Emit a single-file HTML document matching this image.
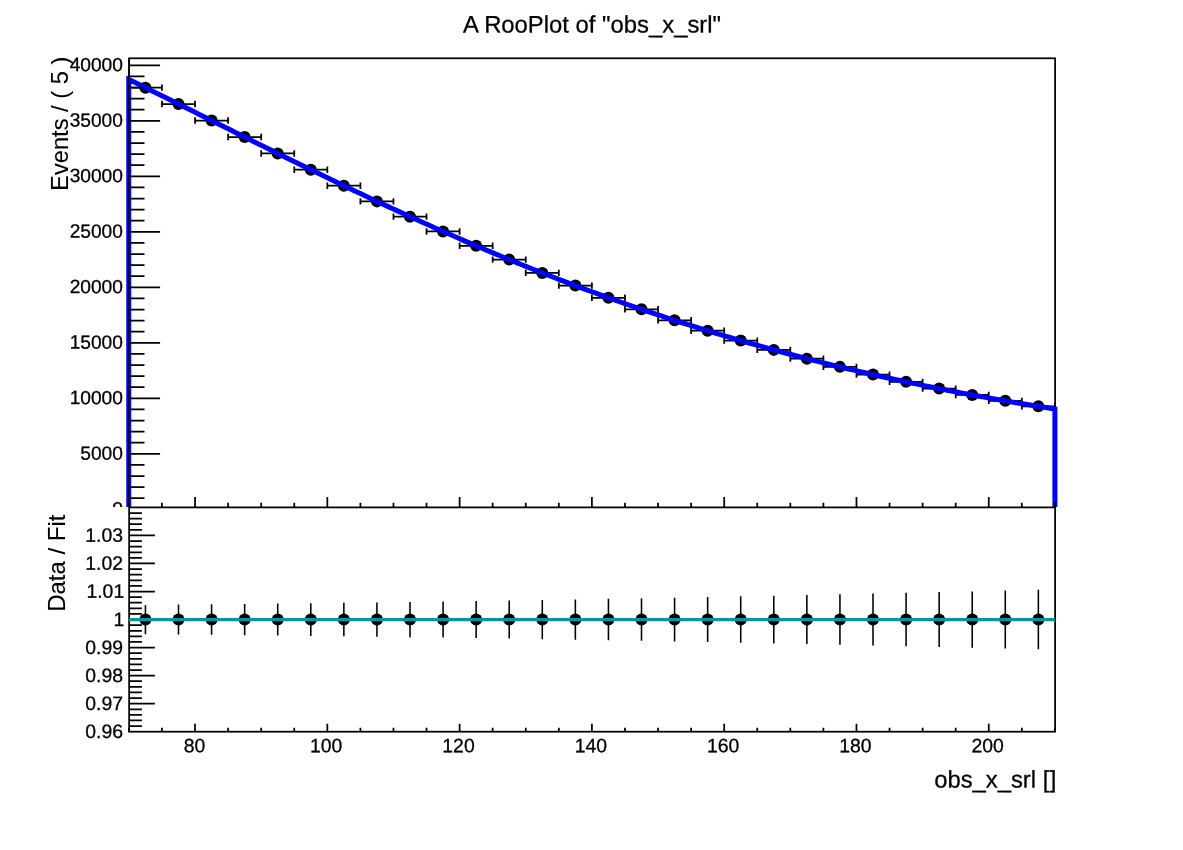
<!DOCTYPE html>
<html><head><meta charset="utf-8"><title>A RooPlot of "obs_x_srl"</title>
<style>html,body{margin:0;padding:0;background:#fff}body{width:1183px;height:850px;overflow:hidden}</style></head>
<body>
<svg width="1183" height="850" viewBox="0 0 1183 850" style="display:block">
<rect width="1183" height="850" fill="#fff"/>
<g font-family="'Liberation Sans', Arial, Helvetica, sans-serif" fill="#000" stroke="#000" stroke-width="0.28" stroke-linejoin="round">
<text transform="translate(592.0,32.5) rotate(0.03)" font-size="23.85" text-anchor="middle">A RooPlot of "obs_x_srl"</text>
<text transform="translate(122.9,515.15) rotate(0.03)" font-size="19.15" text-anchor="end">0</text>
<text transform="translate(122.9,459.65) rotate(0.03)" font-size="19.15" text-anchor="end">5000</text>
<text transform="translate(122.9,404.15) rotate(0.03)" font-size="19.15" text-anchor="end">10000</text>
<text transform="translate(122.9,348.65) rotate(0.03)" font-size="19.15" text-anchor="end">15000</text>
<text transform="translate(122.9,293.15) rotate(0.03)" font-size="19.15" text-anchor="end">20000</text>
<text transform="translate(122.9,237.65) rotate(0.03)" font-size="19.15" text-anchor="end">25000</text>
<text transform="translate(122.9,182.15) rotate(0.03)" font-size="19.15" text-anchor="end">30000</text>
<text transform="translate(122.9,126.65) rotate(0.03)" font-size="19.15" text-anchor="end">35000</text>
<text transform="translate(122.9,71.15) rotate(0.03)" font-size="19.15" text-anchor="end">40000</text>
<text transform="translate(68,56.6) rotate(-90)" font-size="23.7" stroke-width="0.1" text-anchor="end">Events / ( 5 )</text>
</g>
<g stroke="#000" stroke-width="1.75" fill="none" stroke-linecap="butt">
<rect x="129.15" y="58.3" width="925.95" height="451.0"/>
<path d="M128.90 87.64h33.07M128.90 84.44v6.4M161.97 84.44v6.4 M161.97 104.02h33.07M161.97 100.82v6.4M195.04 100.82v6.4 M195.04 120.53h33.07M195.04 117.33v6.4M228.11 117.33v6.4 M228.11 137.05h33.07M228.11 133.85v6.4M261.19 133.85v6.4 M261.19 153.48h33.07M261.19 150.28v6.4M294.26 150.28v6.4 M294.26 169.73h33.07M294.26 166.53v6.4M327.33 166.53v6.4 M327.33 185.72h33.07M327.33 182.52v6.4M360.40 182.52v6.4 M360.40 201.38h33.07M360.40 198.18v6.4M393.47 198.18v6.4 M393.47 216.64h33.07M393.47 213.44v6.4M426.54 213.44v6.4 M426.54 231.46h33.07M426.54 228.26v6.4M459.61 228.26v6.4 M459.61 245.80h33.07M459.61 242.60v6.4M492.69 242.60v6.4 M492.69 259.62h33.07M492.69 256.42v6.4M525.76 256.42v6.4 M525.76 272.89h33.07M525.76 269.69v6.4M558.83 269.69v6.4 M558.83 285.61h33.07M558.83 282.41v6.4M591.90 282.41v6.4 M591.90 297.75h33.07M591.90 294.55v6.4M624.97 294.55v6.4 M624.97 309.32h33.07M624.97 306.12v6.4M658.04 306.12v6.4 M658.04 320.31h33.07M658.04 317.11v6.4M691.11 317.11v6.4 M691.11 330.73h33.07M691.11 327.53v6.4M724.19 327.53v6.4 M724.19 340.58h33.07M724.19 337.38v6.4M757.26 337.38v6.4 M757.26 349.88h33.07M757.26 346.68v6.4M790.33 346.68v6.4 M790.33 358.64h33.07M790.33 355.44v6.4M823.40 355.44v6.4 M823.40 366.87h33.07M823.40 363.67v6.4M856.47 363.67v6.4 M856.47 374.60h33.07M856.47 371.40v6.4M889.54 371.40v6.4 M889.54 381.84h33.07M889.54 378.64v6.4M922.61 378.64v6.4 M922.61 388.61h33.07M922.61 385.41v6.4M955.69 385.41v6.4 M955.69 394.94h33.07M955.69 391.74v6.4M988.76 391.74v6.4 M988.76 400.83h33.07M988.76 397.63v6.4M1021.83 397.63v6.4 M1021.83 406.32h33.07M1021.83 403.12v6.4M1054.90 403.12v6.4" stroke-width="1.75"/>
</g>
<g fill="#000">
<circle cx="145.44" cy="87.64" r="6"/>
<circle cx="178.51" cy="104.02" r="6"/>
<circle cx="211.58" cy="120.53" r="6"/>
<circle cx="244.65" cy="137.05" r="6"/>
<circle cx="277.72" cy="153.48" r="6"/>
<circle cx="310.79" cy="169.73" r="6"/>
<circle cx="343.86" cy="185.72" r="6"/>
<circle cx="376.94" cy="201.38" r="6"/>
<circle cx="410.01" cy="216.64" r="6"/>
<circle cx="443.08" cy="231.46" r="6"/>
<circle cx="476.15" cy="245.80" r="6"/>
<circle cx="509.22" cy="259.62" r="6"/>
<circle cx="542.29" cy="272.89" r="6"/>
<circle cx="575.36" cy="285.61" r="6"/>
<circle cx="608.44" cy="297.75" r="6"/>
<circle cx="641.51" cy="309.32" r="6"/>
<circle cx="674.58" cy="320.31" r="6"/>
<circle cx="707.65" cy="330.73" r="6"/>
<circle cx="740.72" cy="340.58" r="6"/>
<circle cx="773.79" cy="349.88" r="6"/>
<circle cx="806.86" cy="358.64" r="6"/>
<circle cx="839.94" cy="366.87" r="6"/>
<circle cx="873.01" cy="374.60" r="6"/>
<circle cx="906.08" cy="381.84" r="6"/>
<circle cx="939.15" cy="388.61" r="6"/>
<circle cx="972.22" cy="394.94" r="6"/>
<circle cx="1005.29" cy="400.83" r="6"/>
<circle cx="1038.36" cy="406.32" r="6"/>
</g>
<polyline fill="none" stroke="#0000ff" stroke-width="5" stroke-linejoin="miter" points="128.75,509.30 128.75,79.53 133.53,81.79 138.16,84.06 142.79,86.34 147.42,88.61 152.05,90.90 156.68,93.18 161.31,95.48 165.94,97.77 170.57,100.07 175.20,102.37 179.83,104.68 184.46,106.98 189.09,109.29 193.72,111.60 198.35,113.91 202.98,116.23 207.61,118.54 212.24,120.86 216.87,123.17 221.50,125.49 226.13,127.80 230.76,130.11 235.39,132.43 240.02,134.74 244.65,137.05 249.28,139.35 253.91,141.66 258.54,143.96 263.17,146.27 267.80,148.56 272.43,150.86 277.06,153.15 281.69,155.44 286.32,157.72 290.95,160.01 295.58,162.28 300.21,164.55 304.84,166.82 309.47,169.08 314.10,171.34 318.73,173.59 323.36,175.84 327.99,178.08 332.62,180.32 337.25,182.55 341.88,184.77 346.51,186.99 351.14,189.20 355.77,191.40 360.40,193.59 365.03,195.78 369.66,197.96 374.29,200.14 378.92,202.31 383.55,204.46 388.18,206.61 392.81,208.76 397.44,210.89 402.07,213.02 406.70,215.14 411.33,217.24 415.96,219.34 420.59,221.44 425.22,223.52 429.85,225.59 434.48,227.66 439.11,229.71 443.74,231.76 448.37,233.79 453.00,235.82 457.63,237.83 462.26,239.84 466.89,241.84 471.52,243.82 476.15,245.80 480.78,247.77 485.41,249.72 490.04,251.67 494.67,253.60 499.30,255.53 503.93,257.44 508.56,259.35 513.19,261.24 517.82,263.12 522.45,265.00 527.08,266.86 531.71,268.71 536.34,270.55 540.97,272.37 545.60,274.19 550.23,276.00 554.86,277.79 559.49,279.58 564.12,281.35 568.75,283.11 573.38,284.86 578.01,286.60 582.64,288.33 587.27,290.05 591.90,291.75 596.53,293.45 601.16,295.13 605.79,296.80 610.42,298.46 615.05,300.11 619.68,301.75 624.31,303.38 628.94,304.99 633.57,306.60 638.20,308.19 642.83,309.77 647.46,311.34 652.09,312.90 656.72,314.45 661.35,315.98 665.98,317.51 670.61,319.02 675.24,320.53 679.87,322.02 684.50,323.50 689.13,324.97 693.76,326.42 698.39,327.87 703.02,329.31 707.65,330.73 712.28,332.14 716.91,333.54 721.54,334.94 726.17,336.32 730.80,337.69 735.43,339.04 740.06,340.39 744.69,341.73 749.32,343.05 753.95,344.37 758.58,345.67 763.21,346.96 767.84,348.25 772.47,349.52 777.10,350.78 781.73,352.03 786.36,353.27 790.99,354.50 795.62,355.72 800.25,356.93 804.88,358.13 809.51,359.32 814.14,360.50 818.77,361.66 823.40,362.82 828.03,363.97 832.66,365.11 837.29,366.23 841.92,367.35 846.55,368.46 851.18,369.56 855.81,370.65 860.44,371.72 865.07,372.79 869.70,373.85 874.33,374.90 878.96,375.94 883.59,376.97 888.22,377.99 892.85,379.00 897.48,380.01 902.11,381.00 906.74,381.98 911.37,382.96 916.00,383.92 920.63,384.88 925.26,385.83 929.89,386.76 934.52,387.69 939.15,388.61 943.78,389.53 948.41,390.43 953.04,391.32 957.67,392.21 962.30,393.09 966.93,393.95 971.56,394.81 976.19,395.67 980.82,396.51 985.45,397.34 990.08,398.17 994.71,398.99 999.34,399.80 1003.97,400.60 1008.60,401.40 1013.23,402.18 1017.86,402.96 1022.49,403.73 1027.12,404.50 1031.75,405.25 1036.38,406.00 1041.01,406.74 1045.64,407.47 1050.27,408.20 1054.90,408.91 1054.90,509.30"/>
<path d="M128.20 509.30h31.9 M128.20 498.20h16.3 M128.20 487.10h16.3 M128.20 476.00h16.3 M128.20 464.90h16.3 M128.20 453.80h31.9 M128.20 442.70h16.3 M128.20 431.60h16.3 M128.20 420.50h16.3 M128.20 409.40h16.3 M128.20 398.30h31.9 M128.20 387.20h16.3 M128.20 376.10h16.3 M128.20 365.00h16.3 M128.20 353.90h16.3 M128.20 342.80h31.9 M128.20 331.70h16.3 M128.20 320.60h16.3 M128.20 309.50h16.3 M128.20 298.40h16.3 M128.20 287.30h31.9 M128.20 276.20h16.3 M128.20 265.10h16.3 M128.20 254.00h16.3 M128.20 242.90h16.3 M128.20 231.80h31.9 M128.20 220.70h16.3 M128.20 209.60h16.3 M128.20 198.50h16.3 M128.20 187.40h16.3 M128.20 176.30h31.9 M128.20 165.20h16.3 M128.20 154.10h16.3 M128.20 143.00h16.3 M128.20 131.90h16.3 M128.20 120.80h31.9 M128.20 109.70h16.3 M128.20 98.60h16.3 M128.20 87.50h16.3 M128.20 76.40h16.3 M128.20 65.30h31.9 M128.90 507.4v-4.6 M161.97 507.4v-4.6 M195.04 507.4v-10.3 M228.11 507.4v-4.6 M261.19 507.4v-4.6 M294.26 507.4v-4.6 M327.33 507.4v-10.3 M360.40 507.4v-4.6 M393.47 507.4v-4.6 M426.54 507.4v-4.6 M459.61 507.4v-10.3 M492.69 507.4v-4.6 M525.76 507.4v-4.6 M558.83 507.4v-4.6 M591.90 507.4v-10.3 M624.97 507.4v-4.6 M658.04 507.4v-4.6 M691.11 507.4v-4.6 M724.19 507.4v-10.3 M757.26 507.4v-4.6 M790.33 507.4v-4.6 M823.40 507.4v-4.6 M856.47 507.4v-10.3 M889.54 507.4v-4.6 M922.61 507.4v-4.6 M955.69 507.4v-4.6 M988.76 507.4v-10.3 M1021.83 507.4v-4.6 M1054.90 507.4v-4.6" stroke="#000" stroke-width="1.75" fill="none"/>
<line x1="128.7" x2="128.7" y1="58.3" y2="507.4" stroke="#000" stroke-width="1"/>
<rect x="0" y="507.0" width="1183" height="343.0" fill="#fff"/>
<g font-family="'Liberation Sans', Arial, Helvetica, sans-serif" fill="#000" stroke="#000" stroke-width="0.28" stroke-linejoin="round">
<text transform="translate(123.0,541.79) rotate(0.03)" font-size="19.4" text-anchor="end">1.03</text>
<text transform="translate(123.0,569.83) rotate(0.03)" font-size="19.4" text-anchor="end">1.02</text>
<text transform="translate(124.2,597.86) rotate(0.03)" font-size="19.4" text-anchor="end">1.01</text>
<text transform="translate(124.2,625.90) rotate(0.03)" font-size="19.4" text-anchor="end">1</text>
<text transform="translate(123.0,653.94) rotate(0.03)" font-size="19.4" text-anchor="end">0.99</text>
<text transform="translate(123.0,681.98) rotate(0.03)" font-size="19.4" text-anchor="end">0.98</text>
<text transform="translate(123.0,710.01) rotate(0.03)" font-size="19.4" text-anchor="end">0.97</text>
<text transform="translate(123.0,738.05) rotate(0.03)" font-size="19.4" text-anchor="end">0.96</text>
<text transform="translate(64.9,514.5) rotate(-90)" font-size="24" stroke-width="0.1" text-anchor="end">Data / Fit</text>
<text transform="translate(194.5,752.2) rotate(0.03)" font-size="19.4" text-anchor="middle">80</text>
<text transform="translate(326.2,752.2) rotate(0.03)" font-size="19.4" text-anchor="middle">100</text>
<text transform="translate(458.5,752.2) rotate(0.03)" font-size="19.4" text-anchor="middle">120</text>
<text transform="translate(590.8,752.2) rotate(0.03)" font-size="19.4" text-anchor="middle">140</text>
<text transform="translate(723.1,752.2) rotate(0.03)" font-size="19.4" text-anchor="middle">160</text>
<text transform="translate(855.4,752.2) rotate(0.03)" font-size="19.4" text-anchor="middle">180</text>
<text transform="translate(987.7,752.2) rotate(0.03)" font-size="19.4" text-anchor="middle">200</text>
<text transform="translate(1056.4,787.6) rotate(0.03)" font-size="23.8" text-anchor="end">obs_x_srl [<tspan dx="0.5">]</tspan></text>
</g>
<g stroke="#000" stroke-width="1.75" fill="none">
<rect x="129.15" y="507.4" width="925.95" height="224.3"/>
<path d="M128.9 726.09h13 M128.9 720.49h13 M128.9 714.88h13 M128.9 709.27h13 M128.9 703.66h26 M128.9 698.06h13 M128.9 692.45h13 M128.9 686.84h13 M128.9 681.23h13 M128.9 675.63h26 M128.9 670.02h13 M128.9 664.41h13 M128.9 658.80h13 M128.9 653.20h13 M128.9 647.59h26 M128.9 641.98h13 M128.9 636.37h13 M128.9 630.77h13 M128.9 625.16h13 M128.9 619.55h26 M128.9 613.94h13 M128.9 608.34h13 M128.9 602.73h13 M128.9 597.12h13 M128.9 591.51h26 M128.9 585.91h13 M128.9 580.30h13 M128.9 574.69h13 M128.9 569.08h13 M128.9 563.48h26 M128.9 557.87h13 M128.9 552.26h13 M128.9 546.65h13 M128.9 541.05h13 M128.9 535.44h26 M128.9 529.83h13 M128.9 524.22h13 M128.9 518.62h13 M128.9 513.01h13 M128.90 731.7v-4 M161.97 731.7v-4 M195.04 731.7v-8 M228.11 731.7v-4 M261.19 731.7v-4 M294.26 731.7v-4 M327.33 731.7v-8 M360.40 731.7v-4 M393.47 731.7v-4 M426.54 731.7v-4 M459.61 731.7v-8 M492.69 731.7v-4 M525.76 731.7v-4 M558.83 731.7v-4 M591.90 731.7v-8 M624.97 731.7v-4 M658.04 731.7v-4 M691.11 731.7v-4 M724.19 731.7v-8 M757.26 731.7v-4 M790.33 731.7v-4 M823.40 731.7v-4 M856.47 731.7v-8 M889.54 731.7v-4 M922.61 731.7v-4 M955.69 731.7v-4 M988.76 731.7v-8 M1021.83 731.7v-4 M1054.90 731.7v-4"/>
<path d="M145.44 604.88v29.35 M178.51 604.58v29.93 M211.58 604.27v30.56 M244.65 603.93v31.23 M277.72 603.58v31.95 M310.79 603.20v32.70 M343.86 602.80v33.50 M376.94 602.38v34.34 M410.01 601.94v35.23 M443.08 601.47v36.15 M476.15 600.99v37.12 M509.22 600.48v38.14 M542.29 599.95v39.19 M575.36 599.40v40.29 M608.44 598.83v41.43 M641.51 598.24v42.61 M674.58 597.63v43.83 M707.65 597.00v45.09 M740.72 596.35v46.39 M773.79 595.69v47.73 M806.86 595.00v49.09 M839.94 594.30v50.49 M873.01 593.59v51.92 M906.08 592.86v53.38 M939.15 592.12v54.85 M972.22 591.38v56.35 M1005.29 590.62v57.86 M1038.36 589.86v59.38" stroke-width="1.55"/>
</g>
<g fill="#000">
<circle cx="145.44" cy="619.55" r="6"/>
<circle cx="178.51" cy="619.55" r="6"/>
<circle cx="211.58" cy="619.55" r="6"/>
<circle cx="244.65" cy="619.55" r="6"/>
<circle cx="277.72" cy="619.55" r="6"/>
<circle cx="310.79" cy="619.55" r="6"/>
<circle cx="343.86" cy="619.55" r="6"/>
<circle cx="376.94" cy="619.55" r="6"/>
<circle cx="410.01" cy="619.55" r="6"/>
<circle cx="443.08" cy="619.55" r="6"/>
<circle cx="476.15" cy="619.55" r="6"/>
<circle cx="509.22" cy="619.55" r="6"/>
<circle cx="542.29" cy="619.55" r="6"/>
<circle cx="575.36" cy="619.55" r="6"/>
<circle cx="608.44" cy="619.55" r="6"/>
<circle cx="641.51" cy="619.55" r="6"/>
<circle cx="674.58" cy="619.55" r="6"/>
<circle cx="707.65" cy="619.55" r="6"/>
<circle cx="740.72" cy="619.55" r="6"/>
<circle cx="773.79" cy="619.55" r="6"/>
<circle cx="806.86" cy="619.55" r="6"/>
<circle cx="839.94" cy="619.55" r="6"/>
<circle cx="873.01" cy="619.55" r="6"/>
<circle cx="906.08" cy="619.55" r="6"/>
<circle cx="939.15" cy="619.55" r="6"/>
<circle cx="972.22" cy="619.55" r="6"/>
<circle cx="1005.29" cy="619.55" r="6"/>
<circle cx="1038.36" cy="619.55" r="6"/>
</g>
<line x1="128.9" x2="1054.9" y1="619.55" y2="619.55" stroke="#009999" stroke-width="3.3"/>
</svg>
</body></html>
